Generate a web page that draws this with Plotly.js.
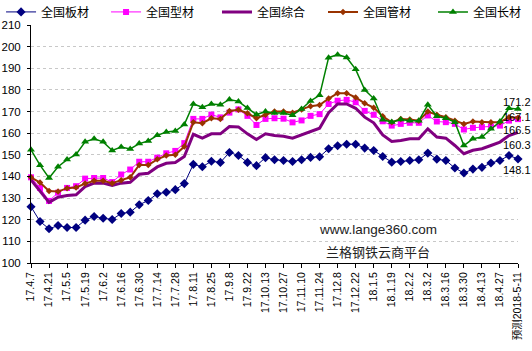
<!DOCTYPE html>
<html>
<head>
<meta charset="utf-8">
<script src="https://cdn.plot.ly/plotly-3.0.1.min.js"></script>
<style>html,body{margin:0;padding:0;background:#fff;}#chart{width:532px;height:351px;}</style>
</head>
<body>
<div id="chart"></div>
<script>
const dates = ["17.4.7","17.4.14","17.4.21","17.4.28","17.5.5","17.5.12","17.5.19","17.5.26","17.6.2","17.6.9",
"17.6.16","17.6.23","17.6.30","17.7.7","17.7.14","17.7.21","17.7.28","17.8.4","17.8.11","17.8.18",
"17.8.25","17.9.1","17.9.8","17.9.15","17.9.22","17.9.29","17.10.13","17.10.20","17.10.27","17.11.3",
"17.11.10","17.11.17","17.11.24","17.12.1","17.12.8","17.12.15","17.12.22","17.12.29","18.1.5","18.1.12",
"18.1.19","18.1.26","18.2.2","18.2.9","18.3.2","18.3.9","18.3.16","18.3.23","18.3.30","18.4.4",
"18.4.13","18.4.20","18.4.27","18.5.4","预测2018-5-11"];

const seriesNames = ["全国板材","全国型材","全国综合","全国管材","全国长材"];

const plate = [126,119.2,115.8,117.3,116.4,116.4,119.8,121.5,120.7,120.1,
122.9,123.5,126.9,128.9,132,132.7,133.9,136.7,145.6,144.5,
147,146.5,151.1,149.7,146.5,145,148.7,147.7,147.4,146.9,
147.7,148.8,149.1,152.8,154.2,154.9,154.9,153.1,152,149.2,
146.6,146.9,147.4,147.7,150.8,148,147.4,143.9,141.6,143.4,
144.2,146.2,147.4,149.7,148.1];

const section = [139.6,134.7,128.7,132.5,134.7,135.5,139,139.3,139.3,137.4,
140.9,143.2,146.8,146.8,148.7,150.7,151.8,155.4,166.6,166.6,
168.6,167.3,169.5,171,168,163.8,166.6,166.9,166.7,165,
165.9,168,168.8,173.5,175,175.4,174.3,170.3,168.5,165.5,
163.5,164.3,164.8,164.8,168.2,165.4,165.1,164.3,161.7,162.5,
162.8,163.1,163.5,165.8,166.5];

const composite = [138.4,133,128,130.4,131.2,131.5,135.3,136.9,136.9,135.8,
136.9,137.3,141,141.5,144.4,146.1,146.4,149.2,159.5,157.7,
159.7,159.7,163.1,162.9,159.7,157.1,159.7,158.9,158.6,157.7,
159.2,160.8,162.3,169.5,173.5,173.5,171.5,167.4,164.8,159.2,
156.2,156.6,157.4,157.4,162,158.2,157.7,154.3,150.5,152.1,
152.8,154.3,155.9,158.9,160.3];

const pipe = [139.6,137.2,133.3,133,134.6,134.9,136.7,138,138,136.9,
138.3,139.6,145.3,145.3,147.9,149.7,150,153.8,165,164.6,
166.9,166.6,170.3,170.8,169.2,166.9,168.5,170,170,169.5,
171,172.5,173,176,178.5,178.5,176.5,173.8,171.8,167.8,
165,166.6,166.3,165.8,170,168.5,167.4,165.8,164.3,165.4,
165.1,165.1,165.1,167.4,167.1];

const longp = [152.3,145.2,139.3,144.5,147.8,150.2,156,157.4,156,152,
153.6,152.7,155.2,156.4,159,160.5,161,164,173.5,172,
173.5,173.1,175.6,174.7,171.6,168.6,170,169.3,169.3,168.3,
171.2,174.9,177.5,194.9,196.3,195,189.5,180,176,166.2,
165.2,166.3,165.8,165.8,173.1,167.8,166.9,165.1,154.3,157.4,
158.2,162,165.4,171.5,171.2];

const yTicks = [100,110,120,130,140,150,160,170,180,190,200,210];

const FONT = "Liberation Sans, Arial, Noto Sans CJK SC, sans-serif";

const styles = [
  {data:plate, color:"#000080", width:1, symbol:"diamond", size:7, lx:-0.0615, dy:-11},
  {data:section, color:"#FF00FF", width:1, symbol:"square", size:6, lx:0.1541, dy:-11},
  {data:composite, color:"#800080", width:3, symbol:null, size:0, lx:0.3819, dy:-12},
  {data:pipe, color:"#993300", width:2, symbol:"diamond", size:5, lx:0.5996, dy:1},
  {data:longp, color:"#008000", width:1.5, symbol:"triangle-up", size:7, lx:0.8254, dy:7}
];

const traces = styles.map((s,k)=>{
  const t = {
    type:"scatter", mode: s.symbol ? "lines+markers" : "lines",
    name: seriesNames[k], x: dates, y: s.data,
    line:{color:s.color, width:s.width},
    cliponaxis:false,
    legend: k===0 ? "legend" : "legend"+(k+1)
  };
  if(s.symbol) t.marker = {symbol:s.symbol, size:s.size, color:s.color, line:{width:0}};
  return t;
});

const tickIdx = dates.map((d,i)=>i).filter(i=>i%2===0);
const lastCat = dates[dates.length-1];

const layout = {
  width:532, height:351,
  margin:{l:31, r:14, t:25, b:88, pad:0, autoexpand:false},
  paper_bgcolor:"#fff", plot_bgcolor:"#fff",
  font:{family:FONT, size:11, color:"#000"},
  showlegend:true,
  xaxis:{type:"category", range:[0, dates.length-1], automargin:false,
    tickmode:"array", tickvals: tickIdx.map(i=>dates[i]), ticktext: tickIdx.map(i=>dates[i]),
    tickangle:-90, ticks:"outside", ticklen:4, tickcolor:"#000",
    showline:true, linecolor:"#000", linewidth:1, showgrid:false, zeroline:false,
    tickfont:{family:FONT,size:10.5,color:"#000"}},
  yaxis:{range:[100,210], tickmode:"array", tickvals:yTicks, automargin:false,
    ticks:"outside", ticklen:3, tickcolor:"#000",
    showline:true, linecolor:"#000", linewidth:1,
    showgrid:true, gridcolor:"#c8c8c8", griddash:"3px,3px", gridwidth:1, zeroline:false,
    tickfont:{family:FONT,size:11.5,color:"#000"}, ticklabelstandoff:4},
  annotations:[
    {text:"www.lange360.com", xref:"paper", yref:"paper", x:0.7125, y:0.1387, showarrow:false,
     xanchor:"center", yanchor:"middle", font:{family:FONT,size:13.5,color:"#222"}},
    {text:"兰格钢铁云商平台", xref:"paper", yref:"paper", x:0.7125, y:0.0475, showarrow:false,
     xanchor:"center", yanchor:"middle", font:{family:"Noto Sans CJK SC, sans-serif",size:13,color:"#222"}}
  ]
};

styles.forEach((s,k)=>{
  const key = k===0 ? "legend" : "legend"+(k+1);
  layout[key] = {orientation:"h", x:s.lx, xanchor:"left", y:1.055, yanchor:"middle",
    font:{family:FONT,size:12,color:"#000"}, itemwidth:30, bgcolor:"rgba(0,0,0,0)", borderwidth:0};
  const v = s.data[s.data.length-1];
  layout.annotations.push({x:lastCat, y:v, xref:"x", yref:"y", text:v.toFixed(1), showarrow:false,
    xanchor:"center", yanchor:"middle", xshift:-1, yshift:s.dy,
    font:{family:FONT,size:11,color:"#000"}});
});

Plotly.newPlot("chart", traces, layout, {displayModeBar:false, staticPlot:true});
</script>
</body>
</html>
